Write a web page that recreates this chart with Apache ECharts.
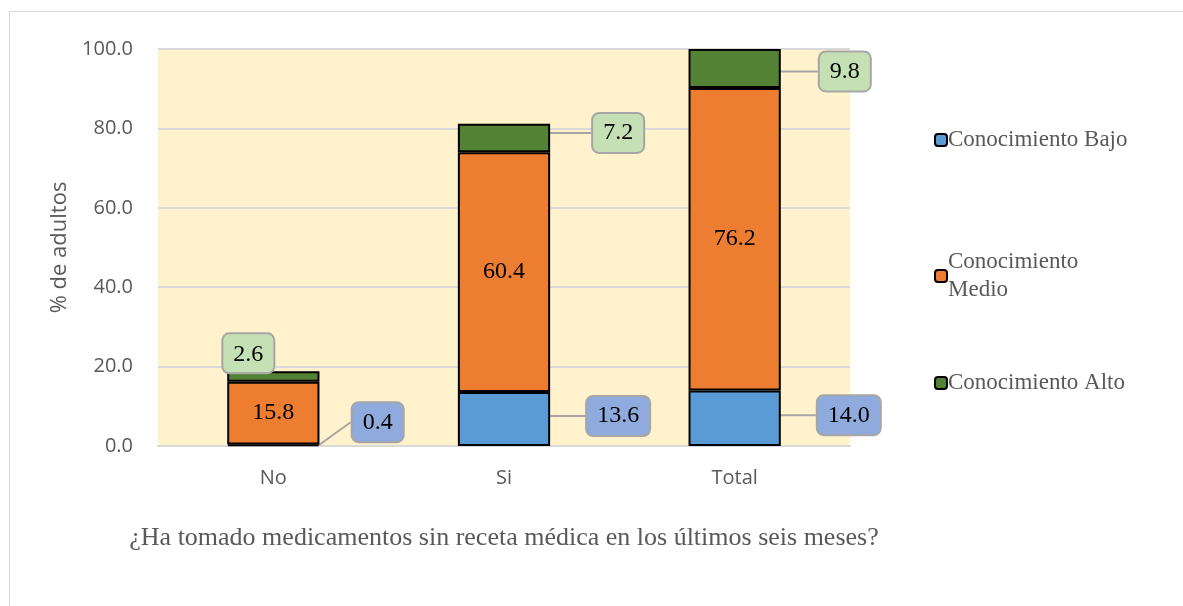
<!DOCTYPE html>
<html>
<head>
<meta charset="utf-8">
<script src="https://cdn.jsdelivr.net/npm/echarts@6/dist/echarts.min.js"></script>
<style>
  html, body { margin: 0; padding: 0; background: #fff; }
  #chart { width: 1183px; height: 606px; }
</style>
</head>
<body>
<div id="chart"></div>
<script>
// categorias del eje X
const categorias = ["No", "Si", "Total"];
// valores por nivel de conocimiento (% de adultos)
const bajo = [0.4, 13.6, 14.0];
const medio = [15.8, 60.4, 76.2];
const alto = [2.6, 7.2, 9.8];

// desplazamiento de las etiquetas con linea guia
const bajoShift = [[28, -23], [32, -3], [32, -3]];
const altoShift = [[-25, 1], [38, -5], [34, 3]];

const serif = "'Liberation Serif', 'DejaVu Serif', serif";
const sans = "'Open Sans', 'Liberation Sans', sans-serif";

const boxLabel = (bg) => ({
  show: true,
  position: "right",
  distance: 5,
  formatter: (p) => p.value.toFixed(1),
  fontFamily: serif,
  fontSize: 24,
  lineHeight: 26,
  color: "#000",
  backgroundColor: bg,
  borderColor: "#A6A6A6",
  borderWidth: 2,
  borderRadius: 6,
  padding: [7, 10, 5, 10],
});

let chart = echarts.init(document.getElementById("chart"));

let options = {
  animation: false,
  graphic: [
    {
      type: "rect",
      shape: { x: 9.5, y: 11.5, width: 1300, height: 800 },
      style: { fill: null, stroke: "#D9D9D9", lineWidth: 1 },
      z: -10,
    },
  ],
  grid: { left: 158, top: 49, width: 692, height: 397, backgroundColor: "#FFF2CC", show: true, borderWidth: 0 },
  legend: [
    {
      data: ["Conocimiento Bajo"],
      left: 929, top: 121,
    },
    {
      data: ["Conocimiento Medio"],
      left: 929, top: 243,
      formatter: () => "Conocimiento\nMedio",
    },
    {
      data: ["Conocimiento Alto"],
      left: 929, top: 364,
    },
  ].map((l) => Object.assign({
    orient: "vertical",
    itemWidth: 12,
    itemHeight: 12,
    itemGap: 4,
    textStyle: { fontFamily: serif, fontSize: 23, color: "#595959", lineHeight: 28, padding: [0, 0, 0, -4] },
  }, l)),
  xAxis: {
    type: "category",
    data: categorias,
    name: "¿Ha tomado medicamentos sin receta médica en los últimos seis meses?",
    nameLocation: "middle",
    nameGap: 79,
    nameTextStyle: { fontFamily: serif, fontSize: 26, color: "#595959" },
    axisLine: { lineStyle: { color: "#D9D9D9", width: 2 } },
    axisTick: { show: false },
    axisLabel: { fontFamily: sans, fontSize: 20, color: "#595959", margin: 22 },
  },
  yAxis: {
    type: "value",
    min: 0,
    max: 100,
    interval: 20,
    name: "% de adultos",
    nameLocation: "middle",
    nameGap: 84,
    nameTextStyle: { fontFamily: sans, fontSize: 22, color: "#595959" },
    axisLabel: { fontFamily: sans, fontSize: 20, color: "#595959", margin: 25, formatter: (v) => v.toFixed(1) },
    splitLine: { lineStyle: { color: "#D9D9D9", width: 2 } },
  },
  series: [
    {
      name: "Conocimiento Bajo",
      type: "bar",
      stack: "total",
      barWidth: "40%",
      data: bajo,
      itemStyle: { color: "#5B9BD5", borderColor: "#000", borderWidth: 2 },
      label: boxLabel("#8FAADC"),
      labelLine: { show: true, lineStyle: { color: "#A6A6A6", width: 2 } },
      labelLayout: (p) => ({ dx: bajoShift[p.dataIndex][0], dy: bajoShift[p.dataIndex][1] }),
    },
    {
      name: "Conocimiento Medio",
      type: "bar",
      stack: "total",
      data: medio,
      itemStyle: { color: "#ED7D31", borderColor: "#000", borderWidth: 2 },
      label: {
        show: true,
        position: "inside",
        formatter: (p) => p.value.toFixed(1),
        fontFamily: serif,
        fontSize: 24,
        color: "#000",
      },
    },
    {
      name: "Conocimiento Alto",
      type: "bar",
      stack: "total",
      data: alto.map((v, i) => (i === 0 ? { value: v, label: { position: "top", distance: 0 } } : v)),
      itemStyle: { color: "#548235", borderColor: "#000", borderWidth: 2 },
      label: boxLabel("#C5E0B4"),
      labelLine: { show: true, lineStyle: { color: "#A6A6A6", width: 2 } },
      labelLayout: (p) => ({ dx: altoShift[p.dataIndex][0], dy: altoShift[p.dataIndex][1] }),
    },
  ],
};

chart.setOption(options);
</script>
</body>
</html>
